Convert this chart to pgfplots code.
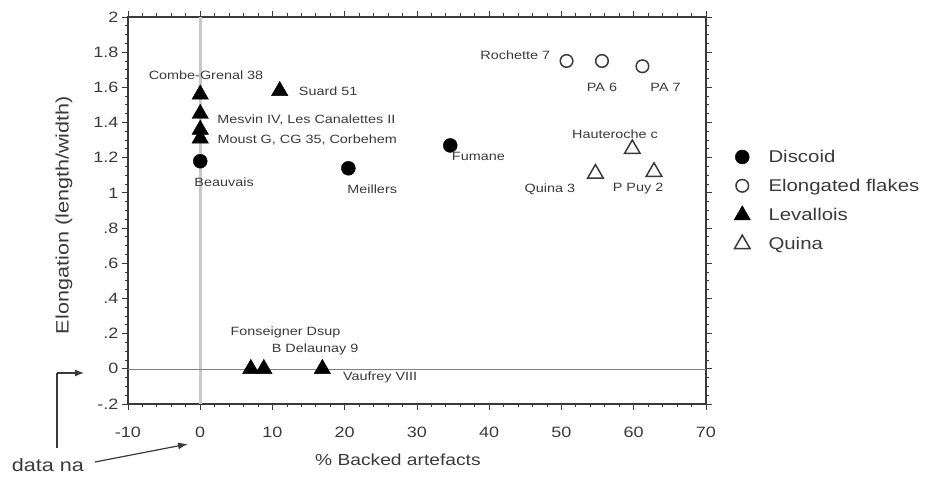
\documentclass[border=0pt]{standalone}
\usepackage{fontspec}
\setmainfont{Liberation Sans}[FakeStretch=1.2]
\usepackage{pgfplots}
\pgfplotsset{compat=1.18}
\usetikzlibrary{arrows.meta}
\definecolor{txt}{HTML}{3A3A3A}
\definecolor{zeroline}{HTML}{C8C8C8}
\newcommand{\lab}{\fontsize{12}{12}\selectfont}
\begin{document}
\begin{tikzpicture}
\path[use as bounding box] (0pt,0pt) rectangle (931pt,478pt);
\begin{axis}[
  at={(128pt,74pt)}, anchor=south west,
  scale only axis, width=578pt, height=387pt,
  xmin=-10, xmax=70, ymin=-0.2, ymax=2,
  xtick={-10,0,10,20,30,40,50,60,70},
  ytick={-0.2,0,0.2,0.4,0.6,0.8,1,1.2,1.4,1.6,1.8,2},
  yticklabels={-.2,0,.2,.4,.6,.8,1,1.2,1.4,1.6,1.8,2},
  minor x tick num=4, minor y tick num=3,
  tick align=outside,
  major tick length=6pt, minor tick length=3.5pt,
  every tick/.style={txt, line width=0.9pt},
  axis line style={txt, line width=1.3pt},
  /pgf/number format/assume math mode=true,
  ticklabel style={font=\fontsize{15}{15}\selectfont, text=txt},
  xticklabel style={yshift=-13pt},
  xlabel={\% Backed artefacts},
  ylabel={Elongation (length/width)},
  label style={text=txt},
  xlabel style={font=\fontsize{16}{16}\selectfont, at={(axis description cs:0.467,-0.1447)}, anchor=center},
  ylabel style={font=\fontsize{18}{18}\selectfont, at={(axis description cs:-0.1107,0.488)}, anchor=center},
  clip=false,
  legend style={at={(1.043,0.667)}, anchor=north west, draw=none, fill=none,
    font=\fontsize{17}{17}\selectfont, text=txt, row sep=11pt,
    /tikz/every odd column/.append style={column sep=16pt}},
  legend cell align=left,
]
\draw[zeroline, line width=3.5pt] (axis cs:0,-0.2) -- (axis cs:0,2);
\draw[gray, line width=0.6pt] (axis cs:-10,0) -- (axis cs:70,0);

\addplot[only marks, mark=*, mark size=7pt, black] coordinates {
  (0,1.18) (20.5,1.14) (34.6,1.27)};
\addlegendentry{Discoid}
\addplot[only marks, mark=o, mark size=6.3pt, line width=1.5pt, txt] coordinates {
  (50.7,1.75) (55.6,1.75) (61.2,1.72)};
\addlegendentry{Elongated flakes}
\addplot[only marks, mark=triangle*, mark size=9.5pt, black] coordinates {
  (0,1.56) (0,1.45) (0,1.36) (0,1.31) (11,1.58) (7,0) (8.8,0) (16.9,0)};
\addlegendentry{Levallois}
\addplot[only marks, mark=triangle, mark size=9pt, line width=1.5pt, txt] coordinates {
  (54.7,1.11) (59.8,1.25) (62.8,1.12)};
\addlegendentry{Quina}

\begin{scope}[every node/.style={font=\lab, text=txt, inner sep=0pt}]
\node at (axis cs:0.8,1.67) {Combe-Grenal 38};
\node at (axis cs:17.7,1.58) {Suard 51};
\node at (axis cs:14.7,1.415) {Mesvin IV, Les Canalettes II};
\node at (axis cs:14.8,1.30) {Moust G, CG 35, Corbehem};
\node at (axis cs:3.3,1.06) {Beauvais};
\node at (axis cs:23.8,1.02) {Meillers};
\node at (axis cs:38.5,1.205) {Fumane};
\node at (axis cs:43.6,1.785) {Rochette 7};
\node at (axis cs:55.6,1.60) {PA 6};
\node at (axis cs:64.4,1.60) {PA 7};
\node at (axis cs:57.4,1.336) {Hauteroche c};
\node at (axis cs:48.4,1.023) {Quina 3};
\node at (axis cs:60.6,1.023) {P Puy 2};
\node at (axis cs:11.8,0.205) {Fonseigner Dsup};
\node at (axis cs:15.9,0.108) {B Delaunay 9};
\node at (axis cs:24.9,-0.05) {Vaufrey VIII};
\end{scope}
\end{axis}
% "data na" annotation
\node[font=\fontsize{18}{18}\selectfont, text=txt, inner sep=0pt] at (48pt,13pt) {data na};
\draw[txt, line width=1.2pt] (57pt,30pt) -- (57pt,105pt);
\draw[txt, line width=1.2pt, -{Latex[length=9pt,width=7pt]}] (57pt,105pt) -- (84pt,105pt);
\draw[txt, line width=1.2pt, -{Latex[length=10pt,width=7pt]}] (95pt,16pt) -- (188pt,34pt);
\end{tikzpicture}
\end{document}
